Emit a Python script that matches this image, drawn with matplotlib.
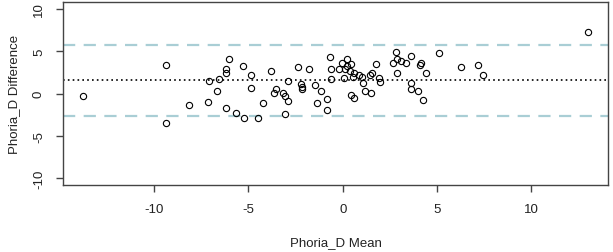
import matplotlib
matplotlib.use("Agg")
import matplotlib.pyplot as plt

# Bland-Altman data
mean_vals = [
    -13.80, -9.35, -9.35, -8.18, -7.16, -7.09, -6.65, -6.56, -6.17, -6.17,
    -6.06, -6.17, -5.64, -5.25, -5.29, -4.88, -4.86, -4.48, -4.25, -3.80,
    -3.56, -3.65, -3.18, -3.05, -2.92, -3.07, -2.91, -2.39, -2.22, -2.18,
    -2.18, -1.77, -1.47, -1.39, -1.18, -0.82, -0.82, -0.66, -0.65, -0.65,
    -0.20, -0.02, 0.10, 0.08, 0.20, 0.25, 0.43, 0.38, 0.60, 0.54,
    0.42, 0.59, 0.88, 1.02, 1.08, 1.18, 1.42, 1.53, 1.52, 1.78,
    1.93, 2.00, 2.82, 2.69, 2.90, 3.11, 3.35, 2.90, 3.60, 3.62,
    3.60, 3.98, 4.13, 4.09, 4.44, 4.25, 5.10, 6.25, 7.18, 7.44,
    12.99,
]
diff_vals = [
    -0.35, 3.33, -3.49, -1.34, -1.06, 1.45, 0.31, 1.76, 2.94, 2.39,
    4.04, -1.73, -2.32, -2.87, 3.29, 2.15, 0.66, -2.94, -1.18, 2.62,
    0.56, 0.04, 0.04, -0.35, -0.85, -2.46, 1.47, 3.12, 1.15, 0.80,
    0.51, 2.86, 0.98, -1.14, 0.33, -0.67, -1.96, 4.27, 2.92, 1.66,
    2.86, 3.65, 2.86, 1.78, 4.04, 3.25, 3.54, 2.62, 2.47, 1.98,
    -0.18, -0.58, 2.15, 1.89, 1.19, 0.33, 2.21, 2.42, 0.01, 3.53,
    1.80, 1.31, 4.94, 3.65, 4.04, 3.80, 3.59, 2.47, 4.47, 1.19,
    0.51, 0.31, 3.62, 3.42, 2.47, -0.81, 4.82, 3.13, 3.33, 2.15,
    7.29,
]

bias = 1.60
upper_loa = 5.72
lower_loa = -2.63

x_ticks = [-10, -5, 0, 5, 10]
y_ticks = [-10, -5, 0, 5, 10]

plt.rcParams['font.family'] = ['Liberation Sans', 'DejaVu Sans']

fig = plt.figure(figsize=(6.13, 2.53), dpi=100)
ax = fig.add_axes([63 / 613, 1 - 186 / 253, 545 / 613, 183 / 253])

# limits of agreement and mean difference
ax.axhline(upper_loa, color='#a9ced5', lw=1.6, dashes=(5.5, 3.8), zorder=1)
ax.axhline(lower_loa, color='#a9ced5', lw=1.6, dashes=(5.5, 3.8), zorder=1)
ax.axhline(bias, color='black', lw=1.2, dashes=(1, 1.9), zorder=1)

ax.plot(mean_vals, diff_vals, 'o', ms=4.5, mfc='none', mec='black', mew=0.8, zorder=2)

ax.set_xlim(-14.84, 14.07)
ax.set_ylim(-10.8, 10.8)
ax.set_xticks(x_ticks)
ax.set_yticks(y_ticks)
ax.set_xticklabels([str(t) for t in x_ticks])
ax.set_yticklabels([str(t) for t in y_ticks], rotation=90, va='center')

for s in ax.spines.values():
    s.set_color('#444444')
    s.set_linewidth(1.0)
ax.tick_params(direction='out', length=5, width=1.0, color='#444444',
               labelsize=9.5, labelcolor='#222222', pad=8)

ax.set_xlabel('Phoria_D Mean', fontsize=9.5, color='#222222', labelpad=15)
ax.set_ylabel('Phoria_D Difference', fontsize=9.5, color='#222222', labelpad=9)

fig.savefig('out.png', dpi=100)
